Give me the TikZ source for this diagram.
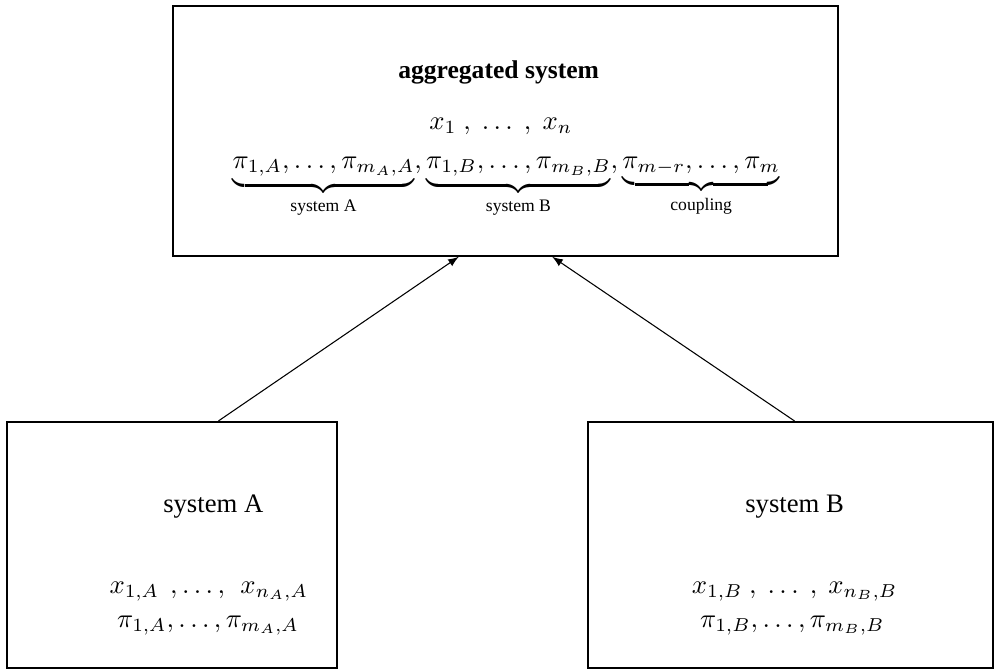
\documentclass[tikz,border=0pt]{standalone}
\usepackage[no-math]{fontspec}
\setmainfont{Liberation Serif}
\usetikzlibrary{calc}
\newcommand{\brlabel}[1]{\mbox{\fontsize{6.6}{7}\selectfont #1}}
\begin{document}
\begin{tikzpicture}[
            sysbox/.style={rectangle, draw=black, line width=0.75pt, inner sep=0pt},
            txt/.style={inner sep=0pt, font=\fontsize{10}{12}\selectfont},
        ]
            \useasboundingbox (0,0) rectangle (13.11,8.84);
            %Nodes
            \node[sysbox, minimum width=8.76cm, minimum height=3.29cm] (agg) at (6.66,7.115) {};
            \node[sysbox, minimum width=4.35cm, minimum height=3.24cm] (sysA) at (2.265,1.66) {};
            \node[sysbox, minimum width=5.33cm, minimum height=3.24cm] (sysB) at (10.415,1.66) {};

            \node[txt, font=\fontsize{9.6}{11}\selectfont] (aggtitle) at (6.57,7.88) {\textbf{aggregated system}};
            \node[txt] (aggx) at (6.6,7.17) {$x_1 \ , \ \ldots \ , \ x_n$};
            \node[txt, anchor=base] (aggpi) at (6.67,6.62) {$\underbrace{\pi_{1,A},\ldots,\pi_{m_A,A}}_{\brlabel{system A}},
                \underbrace{\pi_{1,B},\ldots,\pi_{m_B,B}}_{\brlabel{system B}},
                \underbrace{\pi_{m-r},\ldots,\pi_m}_{\brlabel{coupling}}$};

            \node[txt] (titleA) at (2.81,2.16) {system A};
            \node[txt] (xA) at (2.75,1.05) {$x_{1,A}\ \,,\ldots,\ \, x_{n_A,A}$};
            \node[txt] (piA) at (2.74,0.6) {$\pi_{1,A},\ldots,\pi_{m_A,A}$};

            \node[txt] (titleB) at (10.47,2.16) {system B};
            \node[txt] (xB) at (10.47,1.05) {$x_{1,B}\ ,\ \ldots\ ,\ x_{n_B,B}$};
            \node[txt] (piB) at (10.44,0.6) {$\pi_{1,B},\ldots,\pi_{m_B,B}$};

            %Lines
            \draw[-latex] ($(sysA.north west)!0.64!(sysA.north east)$) -- ($(agg.south west)!0.43!(agg.south east)$);
            \draw[-latex] ($(sysB.north west)!0.51!(sysB.north east)$) -- ($(agg.south west)!0.57!(agg.south east)$);
        \end{tikzpicture}
\end{document}
